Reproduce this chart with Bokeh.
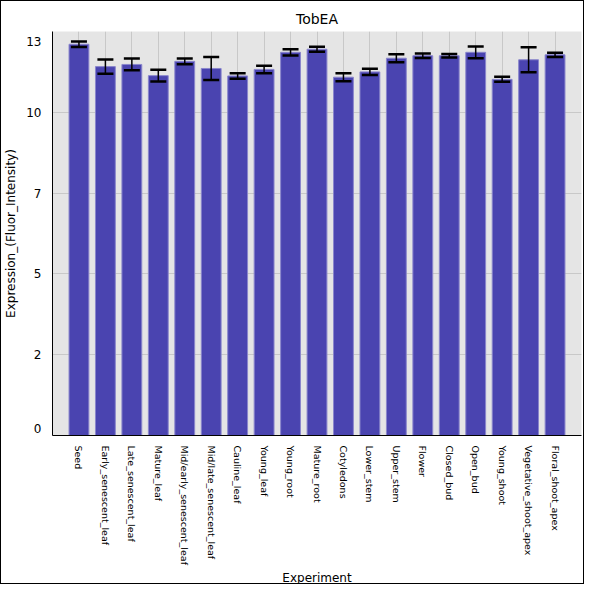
import math
from bokeh.plotting import figure
from bokeh.models import FixedTicker, ColumnDataSource, Whisker, TeeHead, Range1d, Title
from bokeh.embed import file_html
from bokeh.resources import INLINE

experiments = ["Seed", "Early_senescent_leaf", "Late_senescent_leaf", "Mature_leaf",
               "Mid/early_senescent_leaf", "Mid/late_senescent_leaf", "Cauline_leaf",
               "Young_leaf", "Young_root", "Mature_root", "Cotyledons", "Lower_stem",
               "Upper_stem", "Flower", "Closed_bud", "Open_bud", "Young_shoot",
               "Vegetative_shoot_apex", "Floral_shoot_apex"]
means = [12.59, 11.87, 11.94, 11.58, 12.04, 11.81, 11.57, 11.78, 12.33, 12.43,
         11.53, 11.70, 12.14, 12.22, 12.22, 12.33, 11.46, 12.09, 12.25]
errors = [0.09, 0.23, 0.19, 0.19, 0.09, 0.37, 0.09, 0.12, 0.10, 0.08,
          0.13, 0.10, 0.13, 0.07, 0.06, 0.19, 0.08, 0.40, 0.07]
ytick_values = [0.22, 2.6, 5.2, 7.8, 10.4, 12.69]
ytick_labels = ["0", "2", "5", "7", "10", "13"]
ygrid_values = [2.6, 5.2, 7.8, 10.4]

xs = list(range(len(experiments)))
upper = [m + e for m, e in zip(means, errors)]
lower = [m - e for m, e in zip(means, errors)]
src = ColumnDataSource(dict(x=xs, mean=means, upper=upper, lower=lower))

p = figure(width=584, height=584, output_backend="svg", toolbar_location=None,
           title="TobEA", x_range=Range1d(-1, len(experiments)), y_range=Range1d(0, 13),
           min_border_left=44, min_border_right=4, min_border_top=30, min_border_bottom=6)
p.styles = {"border": "1px solid black", "box-sizing": "border-box"}
p.background_fill_color = "#e5e5e5"
p.border_fill_color = "white"
p.outline_line_color = None

p.title.align = "center"
p.title.text_font = "DejaVu Sans"
p.title.text_font_size = "14px"
p.title.text_font_style = "normal"
p.title.text_color = "black"

p.vbar(x="x", top="mean", width=0.75, bottom=0, source=src,
       fill_color="#4a44b0", line_color="#8a86cc", line_width=1)

wh = Whisker(base="x", upper="upper", lower="lower", source=src, level="overlay",
             line_color="black", line_width=1.5,
             upper_head=TeeHead(size=16, line_color="black", line_width=2.5),
             lower_head=TeeHead(size=16, line_color="black", line_width=2.5))
p.add_layout(wh)

p.xaxis.ticker = FixedTicker(ticks=xs)
p.xaxis.major_label_overrides = {i: n for i, n in enumerate(experiments)}
p.xaxis.major_label_orientation = -math.pi / 2
p.xaxis.major_label_text_font_size = "9.5px"
p.xaxis.major_label_text_font = "DejaVu Sans"
p.xaxis.major_label_text_color = "black"
p.xaxis.major_tick_line_color = None
p.xaxis.minor_tick_line_color = None
p.xaxis.axis_line_color = "black"
p.xaxis.major_label_standoff = 4

xlabel = Title(text="Experiment", align="center", text_font="DejaVu Sans",
               text_font_size="12px", text_font_style="normal", text_color="black",
               standoff=2)
p.add_layout(xlabel, "below")

p.yaxis.ticker = FixedTicker(ticks=ytick_values)
p.yaxis.major_label_overrides = {v: l for v, l in zip(ytick_values, ytick_labels)}
p.yaxis.major_label_text_font_size = "12px"
p.yaxis.major_label_text_font = "DejaVu Sans"
p.yaxis.major_label_text_color = "black"
p.yaxis.major_tick_line_color = None
p.yaxis.minor_tick_line_color = None
p.yaxis.axis_line_color = "black"
p.yaxis.axis_label = "Expression_(Fluor_Intensity)"
p.yaxis.axis_label_text_font_style = "normal"
p.yaxis.axis_label_text_font = "DejaVu Sans"
p.yaxis.axis_label_text_font_size = "12px"
p.yaxis.axis_label_text_color = "black"

p.xgrid.ticker = FixedTicker(ticks=xs)
p.ygrid.ticker = FixedTicker(ticks=ygrid_values)
p.xgrid.grid_line_color = "#c8c8c8"
p.ygrid.grid_line_color = "#c8c8c8"
p.xgrid.grid_line_width = 1
p.ygrid.grid_line_width = 1

open("out.html", "w").write(file_html(p, INLINE))
